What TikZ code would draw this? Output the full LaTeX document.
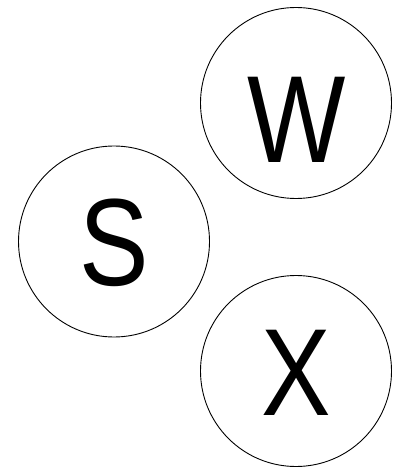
\documentclass[tikz,border=0pt]{standalone}
\usepackage{fontspec}
\setmainfont{Liberation Sans}
\begin{document}
\begin{tikzpicture}[x=1pt,y=-1pt,
  ring/.style={circle,draw=black,line width=0.9pt,minimum size=191pt,inner sep=0pt},
  letter/.style={inner sep=0pt,anchor=center,font=\fontsize{124}{124}\selectfont}]
\useasboundingbox (0,0) rectangle (402,470);
\node[ring] (w) at (296,103) {};
\node[ring] (s) at (114,241.5) {};
\node[ring] (x) at (296,371) {};
\node[letter] (wl) at (296.5,119.5) {\scalebox{0.84}[1]{W}};
\node[letter] (sl) at (114.5,243.3) {\scalebox{0.84}[1]{S}};
\node[letter] (xl) at (296,372.5) {\scalebox{0.84}[1]{X}};
\end{tikzpicture}
\end{document}
